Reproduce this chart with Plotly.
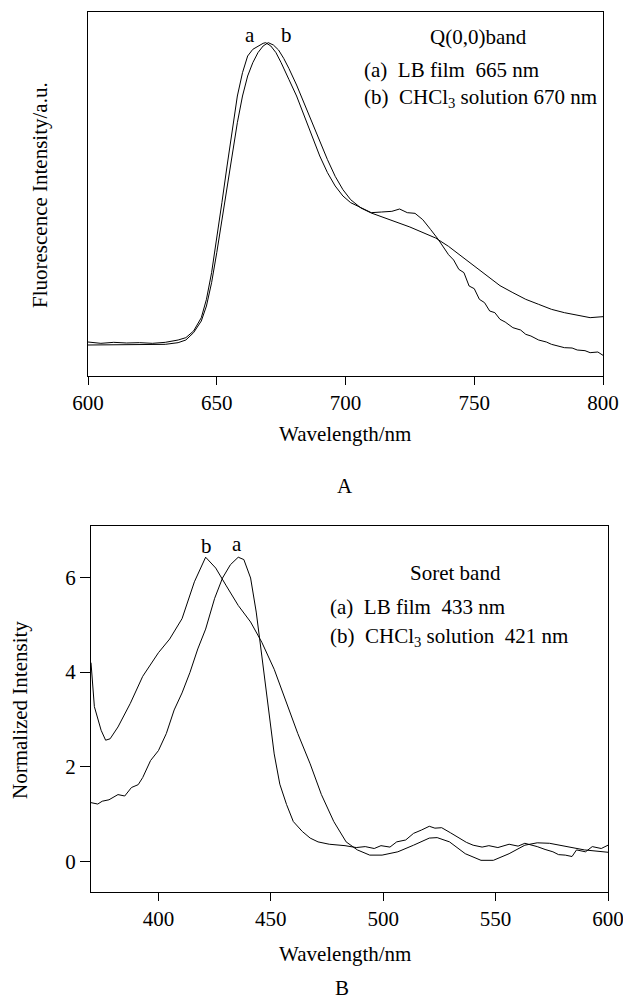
import plotly.graph_objects as go

# ---- Panel A: Q(0,0) band fluorescence ----
qa_wl = [600, 605, 610, 615, 620, 625, 630, 635, 638, 641, 644, 646, 648, 650, 652, 654, 656, 658, 660,
         662, 664, 666, 668, 669, 671, 673, 675, 678, 681, 684, 687, 690, 693, 696, 699, 702, 706, 710,
         714, 718, 721, 724, 727, 730, 733, 736, 740, 742, 744, 746, 748, 750, 752, 754, 756, 758, 760,
         762, 765, 768, 770, 772, 775, 778, 780, 783, 785, 788, 790, 793, 795, 798, 800]
qa_int = [0.102, 0.098, 0.101, 0.099, 0.100, 0.098, 0.101, 0.108, 0.115, 0.135, 0.175, 0.23, 0.31, 0.41,
          0.52, 0.63, 0.74, 0.84, 0.91, 0.96, 0.98, 0.99, 0.998, 1.0, 0.99, 0.97, 0.94, 0.89, 0.84, 0.78,
          0.72, 0.66, 0.61, 0.57, 0.54, 0.52, 0.505, 0.49, 0.492, 0.494, 0.501, 0.49, 0.488, 0.469, 0.44,
          0.41, 0.364, 0.348, 0.32, 0.31, 0.27, 0.262, 0.23, 0.22, 0.195, 0.19, 0.17, 0.162, 0.145, 0.138,
          0.125, 0.12, 0.108, 0.102, 0.095, 0.09, 0.085, 0.084, 0.078, 0.076, 0.07, 0.072, 0.062]

qb_wl = [600, 620, 630, 635, 638, 641, 644, 646, 648, 650, 652, 654, 656, 658, 660, 662, 664, 666, 668,
         670, 672, 674, 676, 678, 681, 684, 687, 690, 693, 696, 699, 702, 706, 710, 715, 720, 725, 730,
         735, 740, 745, 750, 755, 760, 765, 770, 775, 780, 785, 790, 795, 800]
qb_int = [0.093, 0.093, 0.095, 0.10, 0.108, 0.13, 0.165, 0.21, 0.28, 0.37, 0.47, 0.57, 0.67, 0.76, 0.84,
          0.90, 0.94, 0.97, 0.99, 1.0, 0.993, 0.978, 0.953, 0.923, 0.873, 0.818, 0.758, 0.704, 0.649,
          0.599, 0.559, 0.529, 0.504, 0.489, 0.474, 0.461, 0.447, 0.431, 0.414, 0.389, 0.359, 0.329,
          0.299, 0.271, 0.25, 0.23, 0.215, 0.2, 0.19, 0.182, 0.175, 0.178]

# ---- Panel B: Soret band ----
sa_wl = [370, 373, 375, 378, 382, 385, 388, 391, 393, 396.5, 400, 403.5, 407, 410.5, 414, 417.5, 421, 425,
         428.5, 432, 435.5, 438, 441, 443.5, 446, 449, 451.5, 454, 457, 460, 464, 467.5, 471, 476, 483,
         488, 492, 496, 499, 503, 506, 510, 513.5, 517, 520.5, 523, 526, 530, 533, 537, 540, 544, 547,
         551, 556, 560, 563, 566, 568.5, 572, 575.5, 578, 581, 584, 586, 590, 593, 597, 600]
sa_int = [1.24, 1.21, 1.27, 1.3, 1.41, 1.38, 1.56, 1.62, 1.77, 2.13, 2.34, 2.7, 3.2, 3.56, 3.99, 4.49,
          4.91, 5.56, 5.99, 6.27, 6.43, 6.38, 5.99, 5.27, 4.34, 3.27, 2.27, 1.63, 1.2, 0.84, 0.63, 0.49,
          0.41, 0.36, 0.33, 0.29, 0.31, 0.27, 0.33, 0.3, 0.41, 0.45, 0.59, 0.66, 0.74, 0.7, 0.71, 0.6,
          0.52, 0.4, 0.34, 0.3, 0.33, 0.29, 0.36, 0.32, 0.38, 0.35, 0.31, 0.25, 0.2, 0.14, 0.13, 0.1,
          0.24, 0.2, 0.31, 0.27, 0.34]

sb_wl = [370, 371.5, 374.5, 376.5, 378.5, 382, 387.5, 393, 400, 405, 410.5, 416, 421, 425.5, 430, 435.5,
         441, 446, 451.5, 456.5, 462, 467.5, 472.5, 478, 483.5, 488.5, 494, 499.5, 506.5, 513.5, 520.5,
         524, 529.5, 536.5, 543.5, 549, 556, 563, 568.5, 574, 581, 589.5, 600]
sb_int = [4.2, 3.27, 2.77, 2.56, 2.59, 2.84, 3.34, 3.91, 4.41, 4.7, 5.13, 5.91, 6.43, 6.2, 5.84, 5.41,
          5.06, 4.63, 4.06, 3.41, 2.7, 2.06, 1.41, 0.84, 0.41, 0.24, 0.13, 0.13, 0.2, 0.34, 0.49, 0.5,
          0.41, 0.16, 0.02, 0.02, 0.16, 0.34, 0.39, 0.38, 0.31, 0.24, 0.19]

q_ticks = [600, 650, 700, 750, 800]
s_xticks = [400, 450, 500, 550, 600]
s_yticks = [0, 2, 4, 6]

FONT = "Liberation Serif"
line = dict(color="black", width=1)

fig = go.Figure()
fig.add_trace(go.Scatter(x=qa_wl, y=qa_int, mode="lines", line=line, xaxis="x", yaxis="y", showlegend=False))
fig.add_trace(go.Scatter(x=qb_wl, y=qb_int, mode="lines", line=line, xaxis="x", yaxis="y", showlegend=False))
fig.add_trace(go.Scatter(x=sa_wl, y=sa_int, mode="lines", line=line, xaxis="x2", yaxis="y2", showlegend=False))
fig.add_trace(go.Scatter(x=sb_wl, y=sb_int, mode="lines", line=line, xaxis="x2", yaxis="y2", showlegend=False))

axcommon = dict(showline=True, linecolor="black", linewidth=1, mirror=True, showgrid=False, zeroline=False,
                automargin=False, ticklabeloverflow="allow",
                tickfont=dict(family=FONT, size=21, color="black"))

fig.update_layout(
    template="none",
    width=623, height=999,
    margin=dict(l=0, r=0, t=0, b=0, autoexpand=False),
    paper_bgcolor="white", plot_bgcolor="white",
    font=dict(family=FONT, color="black", size=21),
    xaxis=dict(domain=[88/623, 603/623], anchor="y", range=[600, 800], tickvals=q_ticks,
               ticks="outside", ticklen=8, tickcolor="black", **axcommon),
    yaxis=dict(domain=[(999-376)/999, (999-12)/999], anchor="x", range=[0, 1.092],
               showticklabels=False, ticks="", **axcommon),
    xaxis2=dict(domain=[91/623, 608/623], anchor="y2", range=[370, 600], tickvals=s_xticks,
                ticks="outside", ticklen=8, tickcolor="black", **axcommon),
    yaxis2=dict(domain=[(999-892)/999, (999-526)/999], anchor="x2", range=[-0.65, 7.09],
                tickvals=s_yticks, ticks="outside", ticklen=10, tickcolor="black", **axcommon),
)

ann = []
def txt(x, y, s, xref="paper", yref="paper", xanchor="center", size=21, angle=0):
    ann.append(dict(x=x, y=y, xref=xref, yref=yref, text=s, showarrow=False, xanchor=xanchor,
                    yanchor="middle", textangle=angle, font=dict(family=FONT, size=size, color="black")))

# panel A text
txt(663, 1.023, "a", xref="x", yref="y")
txt(677, 1.023, "b", xref="x", yref="y")
txt(478/623, 1 - 37/999, "Q(0,0)band")
txt(362/623, 1 - 70/999, "(a)  LB film  665 nm", xanchor="left")
txt(362/623, 1 - 98/999, "(b)  CHCl<sub>3</sub> solution 670 nm", xanchor="left")
txt(40/623, 1 - 195/999, "Fluorescence Intensity/a.u.", angle=-90)
txt(345/623, 1 - 434/999, "Wavelength/nm")
txt(345/623, 1 - 486/999, "A")

# panel B text
txt(421.3, 6.66, "b", xref="x2", yref="y2")
txt(435.1, 6.70, "a", xref="x2", yref="y2")
txt(455/623, 1 - 573/999, "Soret band")
txt(328/623, 1 - 607/999, "(a)  LB film  433 nm", xanchor="left")
txt(328/623, 1 - 637/999, "(b)  CHCl<sub>3</sub> solution  421 nm", xanchor="left")
txt(20/623, 1 - 710/999, "Normalized Intensity", angle=-90)
txt(345/623, 1 - 954/999, "Wavelength/nm")
txt(342/623, 1 - 988/999, "B")

fig.update_layout(annotations=ann)
fig.write_html("out.html", config={"displayModeBar": False},
               post_script="document.body.style.margin='0';document.body.style.padding='0';"
                           "document.documentElement.style.overflow='hidden';")
